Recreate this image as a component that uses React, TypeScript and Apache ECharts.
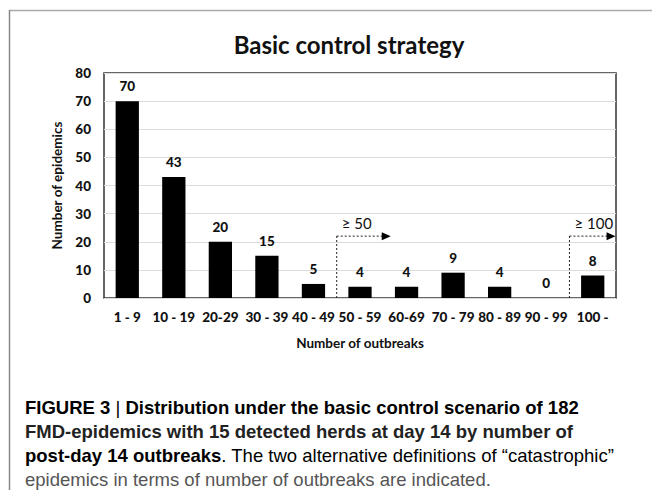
import React, { useEffect, useRef } from "react";
import * as echarts from "echarts";

const categories = ["1 - 9", "10 - 19", "20-29", "30 - 39", "40 - 49", "50 - 59", "60-69", "70 - 79", "80 - 89", "90 - 99", "100 -"];
const epidemics = [70, 43, 20, 15, 5, 4, 4, 9, 4, 0, 8];
const yTicks = { min: 0, max: 80, interval: 10 };
const thresholds = [
  { label: "≥ 50", afterIndex: 4, arrowEndIndex: 5.66 },
  { label: "≥ 100", afterIndex: 9, arrowEndIndex: 10.49 },
];
const captionLines = [
  "FIGURE 3 | Distribution under the basic control scenario of 182",
  "FMD-epidemics with 15 detected herds at day 14 by number of",
  "post-day 14 outbreaks",
  ". The two alternative definitions of \u201ccatastrophic\u201d",
  "epidemics in terms of number of outbreaks are indicated.",
];

const CF = "Lato, 'Open Sans', sans-serif";
const AF = "'Liberation Sans', Arial, sans-serif";
const CW = 900;

export default function App() {
  const ref = useRef<HTMLDivElement>(null);
  useEffect(() => {
    document.body.style.margin = "0";
    const chart = echarts.init(ref.current!, null, { renderer: "svg" });
    const option: any = {
      animation: false,
      backgroundColor: "#fff",
      title: {
        text: "Basic control strategy",
        left: 344,
        top: 27,
        textAlign: "center",
        textStyle: { fontFamily: CF, fontWeight: "bold", fontSize: 24, color: "#111" },
      },
      grid: {
        left: 104,
        right: 36,
        top: 73,
        bottom: 192,
        show: true,
        borderColor: "#333",
        borderWidth: 1.5,
      },
      xAxis: {
        type: "category",
        data: categories,
        axisLine: { show: false },
        axisTick: { show: false },
        axisLabel: {
          interval: 0,
          margin: 12,
          fontFamily: CF,
          fontWeight: CW,
          fontSize: 13.5,
          color: "#111",
        },
        name: "Number of outbreaks",
        nameLocation: "middle",
        nameGap: 38,
        nameTextStyle: { fontFamily: CF, fontWeight: "bold", fontSize: 13.5, color: "#111" },
      },
      yAxis: {
        type: "value",
        min: yTicks.min,
        max: yTicks.max,
        interval: yTicks.interval,
        axisLine: { show: false },
        axisTick: { show: false },
        splitLine: { lineStyle: { color: "#dcdcdc", width: 1 } },
        axisLabel: {
          margin: 13,
          fontFamily: CF,
          fontWeight: CW,
          fontSize: 13.5,
          color: "#111",
        },
        name: "Number of epidemics",
        nameLocation: "middle",
        nameGap: 31,
        nameTextStyle: { fontFamily: CF, fontWeight: "bold", fontSize: 13.5, color: "#111" },
      },
      series: [
        {
          type: "bar",
          data: epidemics,
          barWidth: "50%",
          itemStyle: { color: "#000" },
          label: {
            show: true,
            position: "top",
            distance: 8,
            fontFamily: CF,
            fontWeight: CW,
            fontSize: 13.5,
            color: "#111",
          },
        },
      ],
    };
    chart.setOption(option);

    const px = (i: number, v: number) => chart.convertToPixel({ gridIndex: 0 }, [i, v]) as number[];
    const graphics: any[] = [];
    graphics.push({
      type: "line",
      shape: { x1: 9, y1: 10.5, x2: 652, y2: 10.5 },
      style: { stroke: "#aaa", lineWidth: 1.5 },
    });
    graphics.push({
      type: "line",
      shape: { x1: 9.5, y1: 10, x2: 9.5, y2: 490 },
      style: { stroke: "#888", lineWidth: 1.5 },
    });
    const arrowVal = 22;
    const textVal = 26.5;
    thresholds.forEach((t) => {
      const a = px(t.afterIndex, 0);
      const b = px(t.afterIndex + 1, 0);
      const w = b[0] - a[0];
      const bx = (a[0] + b[0]) / 2;
      const y0 = a[1];
      const ya = px(0, arrowVal)[1];
      const yt = px(0, textVal)[1];
      const xe = a[0] + (t.arrowEndIndex - t.afterIndex) * w;
      graphics.push({
        type: "line",
        shape: { x1: bx, y1: y0, x2: bx, y2: ya },
        style: { stroke: "#222", lineWidth: 1, lineDash: [2, 2] },
      });
      graphics.push({
        type: "line",
        shape: { x1: bx, y1: ya, x2: xe - 8, y2: ya },
        style: { stroke: "#222", lineWidth: 1, lineDash: [2, 2] },
      });
      graphics.push({
        type: "polygon",
        shape: { points: [[xe - 9, ya - 4], [xe, ya], [xe - 9, ya + 4]] },
        style: { fill: "#000" },
      });
      graphics.push({
        type: "text",
        x: bx + 5,
        y: yt,
        style: {
          text: t.label,
          fontFamily: CF,
          fontSize: 15,
          fill: "#111",
          verticalAlign: "middle",
          align: "left",
        },
      });
    });
    const capY = [407, 431, 455, 479];
    const FS = 18.5;
    const capStyleB = { fontFamily: AF, fontWeight: "bold", fontSize: FS, fill: "#222" };
    graphics.push({
      type: "text",
      x: 25,
      y: capY[0],
      style: {
        text: "{b|FIGURE 3 }{p||}{b| Distribution under the basic control scenario of 182}",
        verticalAlign: "middle",
        rich: {
          b: { fontFamily: AF, fontWeight: "bold", fontSize: FS, color: "#222" },
          p: { fontFamily: AF, fontSize: FS, color: "#aaa" },
        },
      },
    });
    graphics.push({
      type: "text",
      x: 25,
      y: capY[1],
      style: { text: captionLines[1], verticalAlign: "middle", ...capStyleB },
    });
    graphics.push({
      type: "text",
      x: 25,
      y: capY[2],
      style: {
        text: `{b|${captionLines[2]}}{n|${captionLines[3]}}`,
        verticalAlign: "middle",
        rich: {
          b: { fontFamily: AF, fontWeight: "bold", fontSize: FS, color: "#222" },
          n: { fontFamily: AF, fontSize: FS, color: "#555" },
        },
      },
    });
    graphics.push({
      type: "text",
      x: 25,
      y: capY[3],
      style: { text: captionLines[4], verticalAlign: "middle", fontFamily: AF, fontSize: FS, fill: "#555" },
    });
    chart.setOption({ graphic: graphics });
    return () => chart.dispose();
  }, []);
  return <div ref={ref} style={{ width: 652, height: 490 }} />;
}
